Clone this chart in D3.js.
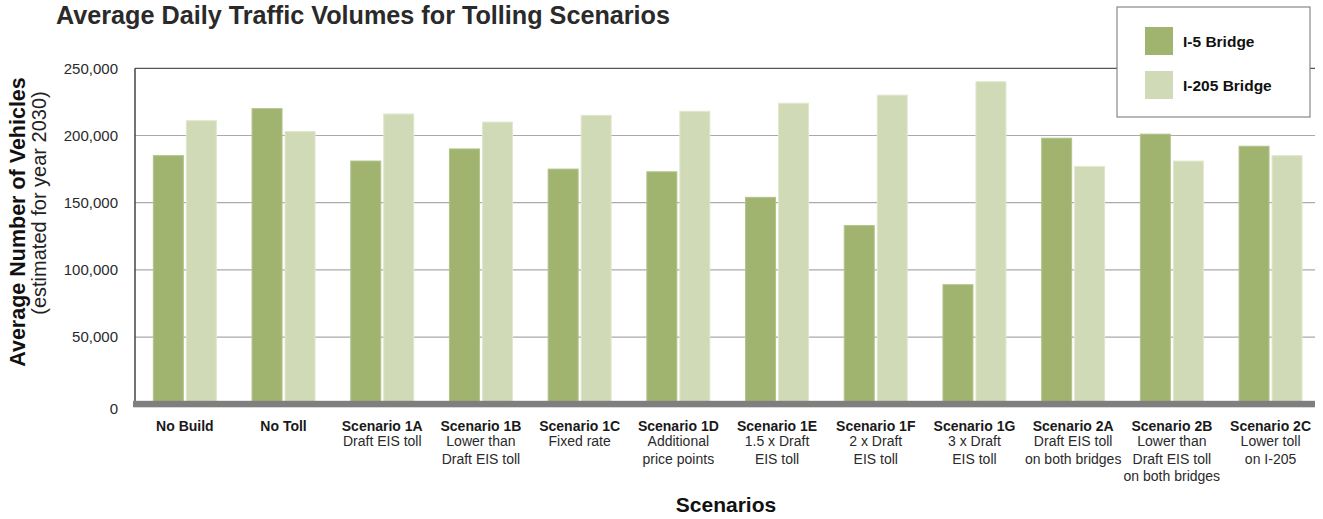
<!DOCTYPE html>
<html>
<head>
<meta charset="utf-8">
<script src="https://cdn.jsdelivr.net/npm/d3@7"></script>
<style>
  body { margin: 0; background: #fff; }
  svg { display: block; font-family: "Liberation Sans", Arial, sans-serif; }
</style>
</head>
<body>
<svg id="chart" width="1323" height="519"></svg>
<script>
// Scenario names (bold first line) and their descriptions (following lines)
const categories = ["No Build", "No Toll", "Scenario 1A", "Scenario 1B", "Scenario 1C", "Scenario 1D",
  "Scenario 1E", "Scenario 1F", "Scenario 1G", "Scenario 2A", "Scenario 2B", "Scenario 2C"];
const descriptions = [
  [], [], ["Draft EIS toll"], ["Lower than", "Draft EIS toll"], ["Fixed rate"],
  ["Additional", "price points"], ["1.5 x Draft", "EIS toll"], ["2 x Draft", "EIS toll"],
  ["3 x Draft", "EIS toll"], ["Draft EIS toll", "on both bridges"],
  ["Lower than", "Draft EIS toll", "on both bridges"], ["Lower toll", "on I-205"]
];
const seriesNames = ["I-5 Bridge", "I-205 Bridge"];
const i5Values   = [185000, 220000, 181000, 190000, 175000, 173000, 154000, 133000, 89000, 198000, 201000, 192000];
const i205Values = [211000, 203000, 216000, 210000, 215000, 218000, 224000, 230000, 240000, 177000, 181000, 185000];
const yTicks = [0, 50000, 100000, 150000, 200000, 250000];

const colors = ["#a0b46f", "#d0dab6"];
const svg = d3.select("#chart");

const plot = { left: 135, right: 1315, top: 68.3, bottom: 404.3 };

const x = d3.scaleBand().domain(categories).range([135.5, 1319.9]).paddingInner(0).paddingOuter(0);
const y = d3.scaleLinear().domain([0, 250000]).range([plot.bottom, plot.top]);

const barW = 30, barGap = 3;

// Horizontal gridlines
svg.append("g")
  .selectAll("line")
  .data(yTicks.filter(d => d > 0))
  .join("line")
  .attr("x1", plot.left).attr("x2", plot.right)
  .attr("y1", d => y(d)).attr("y2", d => y(d))
  .attr("stroke", d => d === 250000 ? "#555" : "#aaa")
  .attr("stroke-width", 1.2);

// Y axis tick labels
const yAxis = d3.axisLeft(y).tickValues(yTicks).tickFormat(d3.format(",")).tickSize(0).tickPadding(17);
const yg = svg.append("g").attr("transform", `translate(${plot.left},0)`).call(yAxis);
yg.select(".domain").remove();
yg.selectAll("text")
  .attr("font-size", 15)
  .attr("fill", "#2a2a2a")
  .attr("font-family", "'Liberation Sans', Arial, sans-serif");
yg.selectAll(".tick").filter(d => d === 0).select("text").attr("dy", "0.6em");

// Bars
const groups = svg.append("g")
  .selectAll("g")
  .data(categories.map((c, i) => ({ c, vals: [i5Values[i], i205Values[i]] })))
  .join("g")
  .attr("transform", d => `translate(${x(d.c) + x.bandwidth() / 2},0)`);

groups.selectAll("rect")
  .data(d => d.vals.map((v, k) => ({ v, k })))
  .join("rect")
  .attr("x", d => d.k === 0 ? -barW - barGap / 2 : barGap / 2)
  .attr("width", barW)
  .attr("y", d => y(d.v))
  .attr("height", d => y(0) - y(d.v))
  .attr("fill", d => colors[d.k])
  .attr("stroke", d => d.k === 0 ? "#b3c48a" : "#e0e8cc")
  .attr("stroke-width", 1);

// Left axis line
svg.append("line")
  .attr("x1", plot.left).attr("x2", plot.left)
  .attr("y1", y(250000)).attr("y2", y(0))
  .attr("stroke", "#444").attr("stroke-width", 1.5);

// Thick baseline
svg.append("rect")
  .attr("x", plot.left - 2).attr("width", plot.right - plot.left + 2)
  .attr("y", y(0) - 3.5).attr("height", 6.5)
  .attr("fill", "#7f7f7f");

// Category labels
const lineOffsets = [15.5, 33, 50.5];
const xl = svg.append("g")
  .selectAll("text")
  .data(categories.map((c, i) => ({ c, lines: descriptions[i] })))
  .join("text")
  .attr("text-anchor", "middle")
  .attr("font-size", 14)
  .attr("fill", "#1a1a1a")
  .attr("transform", d => `translate(${x(d.c) + x.bandwidth() / 2},430.5)`);
xl.append("tspan").attr("x", 0).attr("y", 0).attr("font-weight", "bold").text(d => d.c);
xl.each(function (d) {
  d3.select(this).selectAll("tspan.desc")
    .data(d.lines)
    .join("tspan")
    .attr("class", "desc")
    .attr("x", 0)
    .attr("y", (l, j) => lineOffsets[j])
    .attr("fill", "#2a2a2a")
    .text(l => l);
});

// Title
svg.append("text")
  .attr("x", 56).attr("y", 24)
  .attr("font-size", 25.2).attr("font-weight", "bold").attr("fill", "#2a2a2a")
  .text("Average Daily Traffic Volumes for Tolling Scenarios");

// Axis titles
svg.append("text")
  .attr("transform", "translate(25,222) rotate(-90)")
  .attr("text-anchor", "middle")
  .attr("font-size", 21.5).attr("font-weight", "bold").attr("fill", "#111")
  .text("Average Number of Vehicles");
svg.append("text")
  .attr("transform", "translate(46,203) rotate(-90)")
  .attr("text-anchor", "middle")
  .attr("font-size", 20).attr("fill", "#222")
  .text("(estimated for year 2030)");
svg.append("text")
  .attr("x", 726).attr("y", 512)
  .attr("text-anchor", "middle")
  .attr("font-size", 21).attr("font-weight", "bold").attr("fill", "#111")
  .text("Scenarios");

// Legend
const lg = svg.append("g").attr("transform", "translate(1117,7)");
lg.append("rect").attr("width", 193).attr("height", 110)
  .attr("fill", "#fff").attr("stroke", "#888").attr("stroke-width", 1.2);
const items = lg.selectAll("g.item").data(seriesNames).join("g")
  .attr("class", "item")
  .attr("transform", (d, i) => `translate(28,${20 + i * 44})`);
items.append("rect").attr("width", 28).attr("height", 28).attr("fill", (d, i) => colors[i]);
items.append("text").attr("x", 38).attr("y", 19.5)
  .attr("font-size", 15.5).attr("font-weight", "bold").attr("fill", "#111")
  .text(d => d);
</script>
</body>
</html>
